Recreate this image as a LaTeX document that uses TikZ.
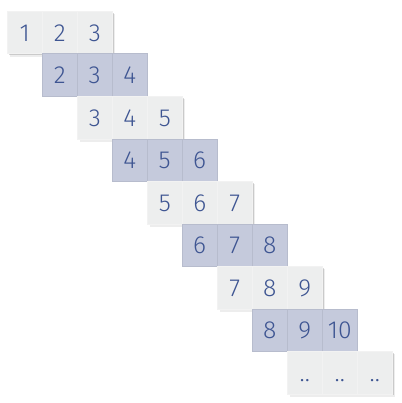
\documentclass[tikz,border=0pt]{standalone}
\usepackage{fontspec}
\setmainfont{Fira Sans Light}
\usetikzlibrary{shadows}
\definecolor{lightcell}{HTML}{EDEEEE}
\definecolor{bluecell}{HTML}{C5CADC}
\definecolor{numcol}{HTML}{3E5592}
\tikzset{
  cellbase/.style={minimum width=35*0.75pt, minimum height=42.5*0.75pt, inner sep=0pt, anchor=north west,
    text=numcol, font=\fontsize{18.5}{18.5}\selectfont, text depth=0pt, text height=13pt},
  lightbox/.style={cellbase, fill=lightcell, draw=black!5, line width=0.4pt,
    general shadow={shadow xshift=2pt, shadow yshift=-2pt, opacity=0.07, fill=black, shadow scale=1.02},
    drop shadow={shadow xshift=1pt, shadow yshift=-1.2pt, opacity=0.15, fill=black}},
  bluebox/.style={cellbase, fill=bluecell, draw=bluecell!93!black, line width=0.3pt},
}
\begin{document}
\begin{tikzpicture}[x=0.75pt, y=-0.75pt]
\useasboundingbox (0,0) rectangle (402,403);
\foreach \i in {0,...,8} {
  \foreach \k in {0,1,2} {
    \pgfmathtruncatemacro{\c}{\i+\k}
    \pgfmathtruncatemacro{\v}{\i+\k+1}
    \pgfmathtruncatemacro{\odd}{mod(\i,2)}
    \ifnum\i=8
      \node[lightbox] (c-\i-\k) at ({7+35*\c},{11+42.5*\i}) {..};
    \else
      \ifnum\odd=1
        \node[bluebox] (c-\i-\k) at ({7+35*\c},{11+42.5*\i}) {\v};
      \else
        \node[lightbox] (c-\i-\k) at ({7+35*\c},{11+42.5*\i}) {\v};
      \fi
    \fi
  }
}
\end{tikzpicture}
\end{document}
